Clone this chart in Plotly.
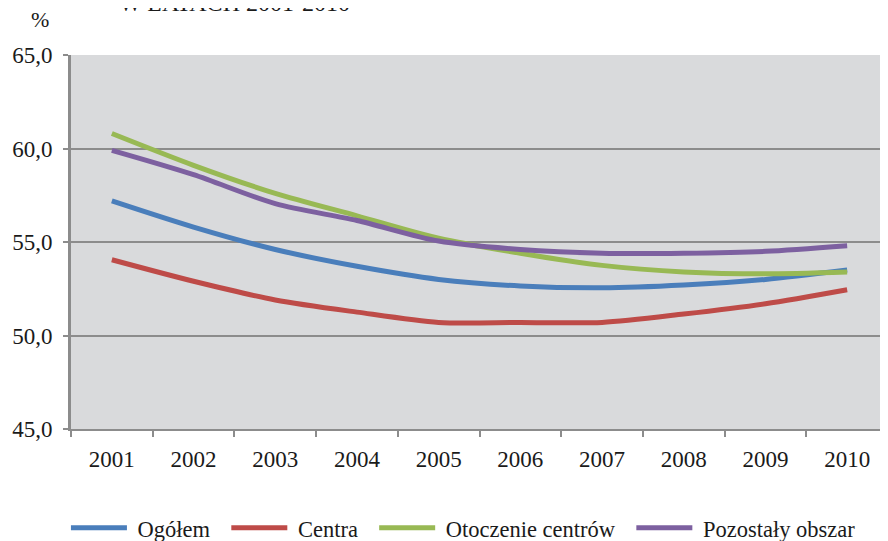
import plotly.graph_objects as go

years = ["2001", "2002", "2003", "2004", "2005", "2006", "2007", "2008", "2009", "2010"]
ogolem = [57.2, 55.8, 54.6, 53.7, 53.0, 52.65, 52.55, 52.7, 53.0, 53.5]
centra = [54.05, 52.9, 51.9, 51.25, 50.7, 50.7, 50.7, 51.15, 51.7, 52.45]
otoczenie = [60.8, 59.1, 57.6, 56.4, 55.2, 54.4, 53.75, 53.4, 53.3, 53.4]
pozostaly = [59.9, 58.6, 57.05, 56.15, 55.05, 54.6, 54.4, 54.4, 54.5, 54.8]

series_names = ["Ogółem", "Centra", "Otoczenie centrów", "Pozostały obszar"]
series_values = [ogolem, centra, otoczenie, pozostaly]
colors = ["#4a7ebb", "#be4b48", "#98b954", "#7d60a0"]

FONT = "Liberation Serif"
TXT = "#1a1a1a"
NB = "\u00a0"

fig = go.Figure()
for name, vals, col in zip(series_names, series_values, colors):
    fig.add_trace(go.Scatter(
        x=years, y=vals, name=NB + name + NB * 2, mode="lines",
        line=dict(color=col, width=5, shape="spline", smoothing=0.8),
    ))

fig.update_layout(
    width=880, height=533,
    margin=dict(l=63, r=0, t=47, b=112, pad=0, autoexpand=False),
    paper_bgcolor="white",
    plot_bgcolor="#d9dadc",
    separators=", ",
    font=dict(family=FONT, size=23, color=TXT),
    showlegend=True,
    legend=dict(
        orientation="h", x=-0.0062, xanchor="left", y=-0.265, yanchor="middle",
        font=dict(family=FONT, size=22.5, color=TXT),
        bgcolor="rgba(0,0,0,0)", traceorder="normal", itemwidth=56,
    ),
    xaxis=dict(
        type="category", range=[-0.5, 9.5], automargin=False,
        showgrid=False, zeroline=False,
        showline=True, linecolor="#8c8c8c", linewidth=2,
        ticks="outside", tickson="boundaries", ticklen=6, tickwidth=2, tickcolor="#8c8c8c",
        tickfont=dict(family=FONT, size=23, color=TXT),
        ticklabelstandoff=8,
    ),
    yaxis=dict(
        range=[45, 65], dtick=5, tickformat=".1f", automargin=False,
        showgrid=True, gridcolor="#8c8c8c", gridwidth=2, zeroline=False,
        showline=True, linecolor="#8c8c8c", linewidth=3,
        ticks="outside", ticklen=5, tickwidth=2, tickcolor="#8c8c8c",
        tickfont=dict(family=FONT, size=23, color=TXT),
        ticklabelstandoff=6,
    ),
    annotations=[
        dict(text="%", xref="paper", yref="paper", x=-0.038, y=1.0936,
             xanchor="center", yanchor="middle", showarrow=False,
             font=dict(family=FONT, size=22, color=TXT)),
        dict(text="W LATACH 2001-2010", xref="paper", yref="paper", x=0.2007, y=1.1,
             xanchor="center", yanchor="bottom", showarrow=False,
             font=dict(family=FONT, size=24, color=TXT)),
    ],
)

fig.write_html("out.html")
